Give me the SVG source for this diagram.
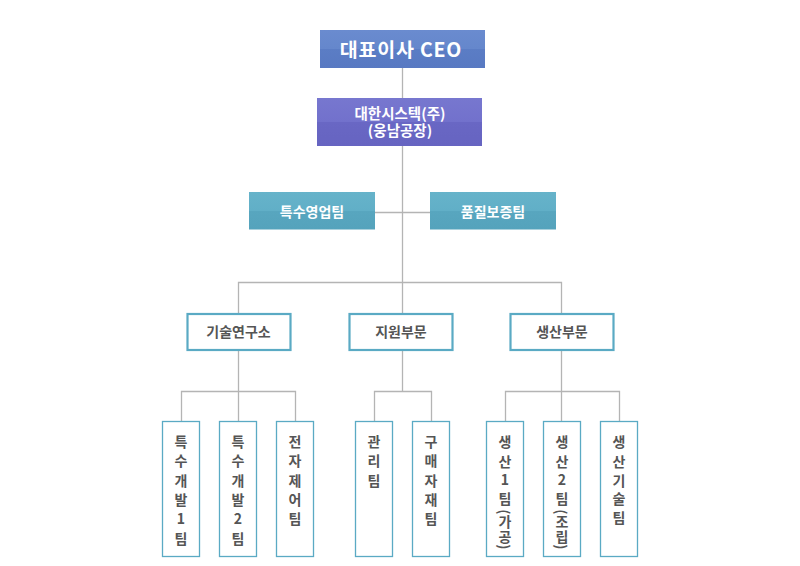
<svg xmlns="http://www.w3.org/2000/svg" width="800" height="566" viewBox="0 0 800 566">
<defs>
<linearGradient id="gBlue" x1="0" y1="0" x2="0" y2="1">
<stop offset="0" stop-color="#6a8bcf"/><stop offset="0.5" stop-color="#6587cc"/><stop offset="0.5" stop-color="#5b7dc5"/><stop offset="1" stop-color="#5879c2"/>
</linearGradient>
<linearGradient id="gPurple" x1="0" y1="0" x2="0" y2="1">
<stop offset="0" stop-color="#7777cf"/><stop offset="0.5" stop-color="#7271cc"/><stop offset="0.5" stop-color="#6967c4"/><stop offset="1" stop-color="#6664c1"/>
</linearGradient>
<linearGradient id="gTeal" x1="0" y1="0" x2="0" y2="1">
<stop offset="0" stop-color="#66b3ca"/><stop offset="0.5" stop-color="#61afc7"/><stop offset="0.5" stop-color="#58a6bf"/><stop offset="1" stop-color="#55a3bc"/>
</linearGradient>
</defs>
<style>
.ln{stroke:#b4b4b4;stroke-width:1.3;fill:none}
.wt{fill:#ffffff;font-family:"Noto Sans CJK KR","Noto Sans",sans-serif;font-weight:bold;text-anchor:middle}
.box{fill:#ffffff;stroke:#5aaac4;stroke-width:2.2}
.vbox{fill:#ffffff;stroke:#5aaac4;stroke-width:1.3}
.gt{fill:#555555;font-family:"Noto Sans CJK KR","Noto Sans",sans-serif;font-weight:bold;text-anchor:middle;font-size:14px}
.rp{fill:#555555;font-family:"Noto Sans CJK KR","Noto Sans",sans-serif;font-weight:bold;text-anchor:middle;font-size:14px;dominant-baseline:central}
</style>
<rect width="800" height="566" fill="#ffffff"/>
<g id="connectors">
<line class="ln" x1="402.5" y1="67" x2="402.5" y2="313"/>
<line class="ln" x1="375" y1="212.5" x2="430" y2="212.5"/>
<polyline class="ln" points="238.5,313 238.5,282.5 561.5,282.5 561.5,313"/>
<line class="ln" x1="238.5" y1="350" x2="238.5" y2="421"/>
<polyline class="ln" points="181.5,421 181.5,391.5 295.5,391.5 295.5,421"/>
<line class="ln" x1="402.5" y1="350" x2="402.5" y2="391.5"/>
<polyline class="ln" points="374.5,421 374.5,391.5 431.5,391.5 431.5,421"/>
<line class="ln" x1="561.5" y1="350" x2="561.5" y2="421"/>
<polyline class="ln" points="505.5,421 505.5,391.5 619.5,391.5 619.5,421"/>
</g>
<g id="ceo">
<rect x="320" y="30" width="165" height="38" fill="url(#gBlue)"/>
<text class="wt" x="401" y="56.5" font-size="19.5" letter-spacing="0.8">대표이사 CEO</text>
</g>
<g id="daehan">
<rect x="317" y="98" width="165" height="48" fill="url(#gPurple)"/>
<text class="wt" x="400" y="118.5" font-size="14.5">대한시스텍(주)</text>
<text class="wt" x="400" y="136" font-size="14.5">(웅남공장)</text>
</g>
<g id="sales">
<rect x="249" y="192" width="126" height="37.5" fill="url(#gTeal)"/>
<text class="wt" x="312" y="216.5" font-size="14">특수영업팀</text>
</g>
<g id="quality">
<rect x="430" y="192" width="126" height="37.5" fill="url(#gTeal)"/>
<text class="wt" x="493" y="216.5" font-size="14">품질보증팀</text>
</g>
<g id="rnd">
<rect class="box" x="187.5" y="314" width="103" height="36"/>
<text class="gt" x="238.5" y="337">기술연구소</text>
</g>
<g id="support">
<rect class="box" x="349.5" y="314" width="103" height="36"/>
<text class="gt" x="401" y="337">지원부문</text>
</g>
<g id="production">
<rect class="box" x="510.5" y="314" width="103" height="36"/>
<text class="gt" x="562" y="337">생산부문</text>
</g>
<g id="dev1">
<rect class="vbox" x="162.5" y="421.5" width="37" height="135"/>
<text class="gt"><tspan x="181" y="447">특</tspan><tspan x="181" y="466.3">수</tspan><tspan x="181" y="485.6">개</tspan><tspan x="181" y="504.9">발</tspan><tspan x="181" y="524.2">1</tspan><tspan x="181" y="543.5">팀</tspan></text>
</g>
<g id="dev2">
<rect class="vbox" x="219.5" y="421.5" width="37" height="135"/>
<text class="gt"><tspan x="238" y="447">특</tspan><tspan x="238" y="466.3">수</tspan><tspan x="238" y="485.6">개</tspan><tspan x="238" y="504.9">발</tspan><tspan x="238" y="524.2">2</tspan><tspan x="238" y="543.5">팀</tspan></text>
</g>
<g id="elec">
<rect class="vbox" x="276.5" y="421.5" width="37" height="135"/>
<text class="gt"><tspan x="295" y="447">전</tspan><tspan x="295" y="466.3">자</tspan><tspan x="295" y="485.6">제</tspan><tspan x="295" y="504.9">어</tspan><tspan x="295" y="524.2">팀</tspan></text>
</g>
<g id="mgmt">
<rect class="vbox" x="355.5" y="421.5" width="37" height="135"/>
<text class="gt"><tspan x="374" y="447">관</tspan><tspan x="374" y="466.3">리</tspan><tspan x="374" y="485.6">팀</tspan></text>
</g>
<g id="purchase">
<rect class="vbox" x="412.5" y="421.5" width="37" height="135"/>
<text class="gt"><tspan x="431" y="447">구</tspan><tspan x="431" y="466.3">매</tspan><tspan x="431" y="485.6">자</tspan><tspan x="431" y="504.9">재</tspan><tspan x="431" y="524.2">팀</tspan></text>
</g>
<g id="prod1">
<rect class="vbox" x="486.5" y="421.5" width="37" height="135"/>
<text class="gt"><tspan x="505" y="447">생</tspan><tspan x="505" y="466.5">산</tspan><tspan x="505" y="485">1</tspan><tspan x="505" y="504">팀</tspan></text>
<text class="rp" transform="translate(505,512) rotate(90)">(</text>
<text class="gt"><tspan x="505" y="527">가</tspan><tspan x="505" y="542">공</tspan></text>
<text class="rp" transform="translate(505,547) rotate(90)">)</text>
</g>
<g id="prod2">
<rect class="vbox" x="543.5" y="421.5" width="37" height="135"/>
<text class="gt"><tspan x="562" y="447">생</tspan><tspan x="562" y="466.5">산</tspan><tspan x="562" y="485">2</tspan><tspan x="562" y="504">팀</tspan></text>
<text class="rp" transform="translate(562,512) rotate(90)">(</text>
<text class="gt"><tspan x="562" y="527">조</tspan><tspan x="562" y="542">립</tspan></text>
<text class="rp" transform="translate(562,547) rotate(90)">)</text>
</g>
<g id="prodtech">
<rect class="vbox" x="600.5" y="421.5" width="37" height="135"/>
<text class="gt"><tspan x="619" y="447">생</tspan><tspan x="619" y="466.5">산</tspan><tspan x="619" y="485.5">기</tspan><tspan x="619" y="504">술</tspan><tspan x="619" y="522.5">팀</tspan></text>
</g>
</svg>
